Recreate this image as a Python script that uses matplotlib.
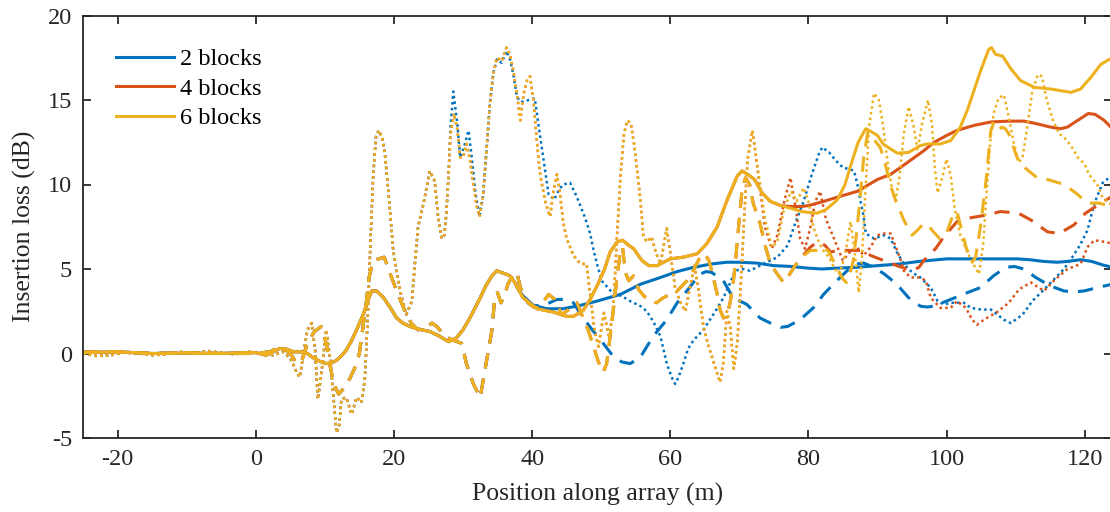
import numpy as np
import matplotlib
matplotlib.use("Agg")
import matplotlib.pyplot as plt

plt.rcParams['font.family'] = ['Liberation Serif', 'DejaVu Serif']
plt.rcParams['axes.unicode_minus'] = False

# colours per block count
c2, c4, c6 = '#0072BD', '#D95319', '#EDB120'
labels = ['2 blocks', '4 blocks', '6 blocks']

# ---- solid curves ----
solid_lead_x = [-25, -20, -15, -10, -5, -2, 0, 1.5, 2.5, 3.5, 4.5, 5.5, 6.5, 7.5, 8.5, 9.5, 10.2, 11, 11.7,
                12.5, 13.1, 13.8, 14.6, 15.6, 16.3, 16.8, 17.5, 18.5, 19.5, 20.4, 21.3, 22.3, 23.5, 25.2,
                26.5, 27.9, 29, 30, 31, 32, 32.5, 33.3, 34.2, 34.9, 35.5, 36.2, 36.8, 37.5, 38]
solid_lead_y = [0.05, 0.1, 0.0, 0.02, 0.0, 0.05, 0.05, -0.1, 0.1, 0.3, 0.25, 0.1, 0.1, 0.0, -0.3, -0.5, -0.6,
                -0.55, -0.4, -0.1, 0.2, 0.7, 1.4, 2.35, 3.2, 3.7, 3.7, 3.3, 2.7, 2.1, 1.8, 1.6, 1.45, 1.3,
                1.05, 0.7, 0.9, 1.4, 2.1, 2.9, 3.3, 4.0, 4.6, 4.9, 4.8, 4.7, 4.6, 4.2, 3.8]

solid2_x = [38.7, 40.2, 42.1, 44.5, 47, 49.4, 52.8, 55.7, 58.6, 61, 63.4, 66, 68.2, 70, 72.5, 75, 77.5, 80,
            82, 84, 87, 90, 93.3, 96, 100, 104, 108, 110.2, 112, 114, 116, 117.5, 119.4, 121, 122.5, 124]
solid2_y = [3.4, 2.85, 2.65, 2.65, 2.85, 3.1, 3.5, 4.1, 4.5, 4.85, 5.1, 5.3, 5.4, 5.4, 5.35, 5.2, 5.15, 5.05,
            5.0, 5.05, 5.1, 5.2, 5.3, 5.45, 5.6, 5.6, 5.6, 5.6, 5.55, 5.45, 5.4, 5.45, 5.55, 5.45, 5.25, 5.1]

solid_warm_x = [38.7, 40.7, 43.1, 45, 46, 47.4, 48.4, 49.4, 50.5, 51.3, 52.3, 53.1, 54, 54.7, 55.9, 56.9,
                58.1, 60, 61.9, 63.9, 65.3, 66.8, 68.2, 69.7, 70.4, 71.2, 72.2, 73.3, 74.5, 76]
solid_warm_y = [3.3, 2.65, 2.45, 2.2, 2.2, 2.55, 3.2, 4.0, 5.0, 6.0, 6.6, 6.7, 6.4, 6.2, 5.5, 5.2, 5.2, 5.6,
                5.7, 5.9, 6.5, 7.5, 9.05, 10.5, 10.8, 10.6, 10.3, 9.5, 9.0, 8.75]

solid4_x = [77.4, 79, 80, 82.2, 84.6, 87.1, 90, 91.9, 93.3, 96.7, 98.2, 100, 101.5, 104, 106.4, 109, 111.2,
            113, 115, 116.5, 117.5, 119, 120.5, 121.5, 122.8, 124]
solid4_y = [8.7, 8.7, 8.75, 9.0, 9.3, 9.6, 10.3, 10.6, 11.0, 12.0, 12.5, 12.9, 13.2, 13.5, 13.7, 13.75, 13.75,
            13.6, 13.4, 13.3, 13.4, 13.8, 14.2, 14.15, 13.8, 13.3]

solid6_x = [77.4, 79, 81.2, 82.5, 84.2, 85.3, 86.1, 87.2, 88.3, 89.2, 90, 90.8, 91.9, 92.9, 94.5, 96.2, 97.2,
            99.1, 100.6, 102, 103, 103.5, 104.9, 106.1, 106.5, 107.1, 108.1, 109.3, 110.7, 112.7, 115.1,
            118, 119.4, 120.9, 122.3, 123.5, 124]
solid6_y = [8.6, 8.4, 8.3, 8.5, 9.1, 10.0, 11.1, 12.5, 13.3, 13.1, 12.9, 12.4, 12.1, 11.85, 11.9, 12.3, 12.4,
            12.4, 12.6, 13.4, 14.4, 15.0, 16.7, 18.0, 18.1, 17.7, 17.6, 16.85, 16.15, 15.75, 15.65, 15.45,
            15.65, 16.35, 17.1, 17.4, 17.45]

# ---- dashed curves ----
dash_lead_x = [-25, -20, -15, -10, -5, 0, 2, 3, 4.4, 5.2, 5.9, 6.7, 7.5, 8.5, 9.5, 10.2, 10.7, 11.3, 12.0,
               12.9, 13.6, 14.3, 15.0, 15.6, 16.0, 16.4, 17.0, 17.8, 18.6, 19.4, 20.4, 21.5, 22.5, 23.5,
               24.5, 25.5, 26.2, 27.5, 28.5, 29.8, 30.5, 31.5, 32.5, 33.0, 33.6, 34.2, 34.6, 35.0, 35.5,
               36.0, 36.5, 37.3, 37.8, 38.3, 39.4]
dash_lead_y = [0.1, 0.1, 0.0, 0.05, 0.0, 0.0, 0.1, 0.3, 0.2, -0.1, -0.6, -0.4, 0.6, 1.3, 1.6, 0.6, -0.6,
               -1.8, -2.4, -2.0, -1.5, -0.9, 0.0, 1.8, 3.0, 4.5, 5.5, 5.6, 5.7, 4.8, 3.7, 2.6, 1.8, 1.4,
               1.5, 1.8, 1.6, 1.0, 0.8, 0.6, -0.6, -1.8, -2.6, -1.4, 0.0, 1.4, 3.3, 3.6, 3.0, 3.4, 4.1,
               4.7, 4.8, 3.9, 3.0]

dash2_x = [40.2, 42, 43.6, 45, 46, 47.4, 48.9, 50.3, 51.8, 53, 54.2, 55.7, 57.5, 59.5, 61, 62.4, 64.3, 65.2,
           66, 67.7, 69.1, 71.1, 73, 74.5, 76, 77, 78.8, 80.7, 82.2, 83.6, 85.6, 87, 88, 89.5, 91, 92.8,
           94.5, 96.2, 97.2, 98.1, 100.6, 103, 104.9, 106.8, 108.6, 109.8, 111.2, 112.9, 115, 117, 118.5,
           119.9, 121.8, 124]
dash2_y = [2.8, 2.9, 3.2, 3.2, 3.0, 2.1, 1.3, 0.6, -0.2, -0.5, -0.6, -0.2, 1.0, 2.0, 3.0, 3.7, 4.7, 4.85,
           4.8, 4.3, 3.3, 2.9, 2.1, 1.8, 1.55, 1.6, 2.0, 2.7, 3.5, 4.1, 4.9, 5.3, 5.35, 5.1, 4.7, 4.1,
           3.3, 2.8, 2.75, 2.8, 3.2, 3.6, 3.9, 4.6, 5.1, 5.15, 5.0, 4.5, 4.0, 3.7, 3.65, 3.7, 3.9, 4.1]

dash_warm_x = [40.2, 40.9, 41.7, 42.4, 43.3, 44.3, 45.3, 46.5, 47.4, 48.2, 48.9, 49.6, 50.3, 50.8, 51.3,
               51.8, 52.3, 52.8, 53.1, 53.5, 54, 54.7, 55.4, 56.2, 57.1, 58, 59, 61, 62.4, 63.1, 64.3, 65,
               65.6, 66, 66.8, 67.2, 67.7, 68.2, 68.7, 69.1, 69.5, 70, 70.4, 70.9, 71.5, 72, 73, 73.8,
               74.5, 75.5, 76.4, 77, 77.9, 79]
dash_warm_y = [2.75, 2.7, 3.1, 3.5, 3.2, 2.3, 2.6, 3.0, 2.1, 1.3, 0.4, -0.5, -1.1, -0.6, 1.0, 2.7, 4.5,
               6.1, 6.3, 4.8, 4.3, 4.6, 3.8, 3.4, 3.1, 3.0, 3.3, 3.7, 4.3, 4.7, 5.7, 5.9, 5.5, 4.9, 3.5,
               2.6, 2.1, 2.2, 3.1, 4.1, 5.7, 8.0, 9.7, 10.4, 10.0, 8.9, 7.7, 6.3, 5.3, 4.7, 4.2, 4.5, 5.1,
               5.7]

dash4_x = [80.3, 81.3, 82.4, 83.2, 84.2, 85.6, 86.5, 88, 89, 90.9, 92.8, 95, 96, 96.7, 98.4, 99.6, 101.5,
           103, 105.9, 107.8, 110.4, 112.2, 114.6, 116.3, 118.4, 120.1, 122.3, 124]
dash4_y = [6.3, 6.6, 6.4, 6.0, 6.1, 6.1, 6.1, 6.1, 5.8, 5.5, 5.2, 4.9, 5.1, 5.5, 6.2, 6.9, 7.8, 8.0, 8.2,
           8.4, 8.3, 7.9, 7.2, 7.1, 7.6, 8.3, 8.9, 9.3]

dash6_x = [80.3, 81.3, 82.2, 83, 83.6, 84.2, 85, 85.5, 86, 86.5, 87, 87.5, 88, 88.6, 89, 90.4, 91, 92,
           92.6, 93.8, 95, 95.8, 96.7, 97.5, 98.1, 99, 99.9, 101, 101.5, 102.2, 102.8, 103.7, 104.2,
           104.6, 105, 105.7, 106.4, 106.8, 107.4, 108, 108.5, 109, 110.2, 111, 113.1, 114.6, 117,
           118.7, 120.4, 122, 124]
dash6_y = [6.1, 6.1, 6.3, 6.0, 5.5, 5.0, 4.4, 4.2, 4.7, 5.5, 7.2, 9.3, 11.6, 13.1, 12.9, 12.2, 11.4, 9.8,
           9.1, 7.9, 7.0, 7.3, 7.7, 7.5, 7.2, 6.8, 7.0, 8.3, 8.4, 7.3, 6.3, 5.4, 5.7, 6.7, 7.8, 10.2,
           13.2, 13.6, 13.2, 13.4, 13.3, 13.0, 11.6, 11.1, 10.4, 10.3, 10.0, 9.5, 8.9, 8.9, 8.7]

# ---- dotted curves ----
dot_lead_x = [-25, -23, -21, -19, -17, -15, -13, -11, -9, -7, -5, -3, -1, 1, 2.5, 4, 5, 5.5, 6.0, 6.4,
              6.9, 7.5, 8.1, 8.6, 9.0, 9.5, 10.2, 10.8, 11.3, 11.7, 12.1, 12.4, 13.1, 13.9, 14.6, 15.3,
              15.8, 16.2, 16.6, 17.0, 17.4, 17.8, 18.3, 18.7, 19.2, 19.9, 20.9, 21.8, 22.6, 23.0, 23.5,
              24.3, 25.2, 25.9, 26.4, 26.9, 27.3, 27.6]
dot_lead_y = [0.0, -0.15, -0.1, 0.05, 0.0, -0.1, -0.05, 0.1, 0.0, 0.15, 0.05, -0.05, 0.1, 0.0, -0.1, 0.1,
              -0.3, -0.7, -1.2, -1.4, 0.0, 1.4, 1.8, 0.2, -2.7, -1.2, 1.4, -0.4, -2.8, -4.7, -4.2, -2.7,
              -2.6, -3.6, -2.6, -2.9, -1.5, 2.0, 6.5, 10.5, 12.8, 13.2, 12.8, 11.8, 9.6, 6.1, 3.7, 2.3,
              3.1, 5.1, 7.5, 8.9, 10.8, 10.2, 8.1, 6.8, 7.0, 8.3]

dot2_x = [27.9, 28.2, 28.6, 29.2, 29.6, 30.2, 30.8, 31.3, 31.8, 32.4, 32.9, 33.4, 33.9, 34.4, 34.9, 35.6,
          36.3, 36.8, 37.3, 37.8, 38.3, 38.8, 39.5, 40.4, 40.9, 41.4, 41.9, 42.4, 43.2, 43.9, 44.5, 45.5,
          46.5, 47.7, 48.4, 48.9, 49.4, 50.1, 51.6, 53, 54.2, 55.7, 56.6, 57.6, 58.6, 59, 59.5, 60.2,
          60.7, 61.2, 61.9, 62.6, 63.4, 64.8, 66.3, 67.7, 68.7, 69.4, 70.5, 71.5, 73.5, 75.5, 77, 78,
          79.3, 80.5, 81.5, 82, 83, 84, 85, 86, 86.6, 87.1, 87.5, 88, 88.3, 89.5, 90.9, 91.9, 92.8, 93.8,
          95, 96.2, 97.7, 98.7, 99.6, 100.6, 102.5, 103.5, 105, 106.4, 108.3, 109.3, 111, 112.4, 113.9,
          115.8, 117, 118.2, 119.3, 120.4, 121.4, 122.6, 123.5, 124]
dot2_y = [10.5, 13.4, 15.5, 13.5, 11.6, 12.3, 13.2, 11.5, 9.5, 8.1, 9.3, 12.0, 14.8, 16.6, 17.4, 17.2, 17.9,
          17.4, 16.5, 15.2, 14.9, 14.9, 15.0, 15.1, 13.6, 12.2, 10.8, 9.4, 9.1, 9.7, 10.0, 10.1, 9.25,
          8.0, 7.1, 6.1, 5.3, 4.3, 3.6, 3.4, 3.1, 2.8, 2.5, 1.85, 1.0, 0.3, -0.6, -1.4, -1.8, -1.4, -0.6,
          0.3, 0.8, 1.4, 2.35, 3.3, 4.2, 4.9, 5.0, 4.9, 5.3, 5.7, 6.4, 7.6, 9.0, 10.6, 11.8, 12.2, 11.9,
          11.4, 11.0, 10.9, 10.8, 10.0, 9.1, 8.1, 7.1, 6.8, 7.0, 6.8, 6.0, 5.3, 4.8, 4.5, 3.9, 3.1, 2.9,
          3.0, 3.0, 2.7, 2.6, 2.6, 2.0, 1.8, 2.3, 3.1, 3.7, 4.5, 5.0, 5.7, 6.4, 7.3, 8.9, 10.1, 10.4,
          10.5]

dot_warm_x = [27.9, 28.2, 28.7, 29.2, 29.6, 30, 30.5, 31, 31.5, 32, 32.4, 32.9, 33.4, 33.9, 34.4, 34.9,
              35.6, 36.3, 36.8, 37.3, 37.8, 38.3, 38.8, 39.3, 39.7, 40.2, 40.7, 41.2, 41.9, 42.6, 43.1,
              43.6, 44, 44.5, 45, 46, 47, 47.9, 48.4, 49, 49.6, 50.4, 51.2, 51.8, 52.3, 52.8, 53.3, 53.8,
              54.3, 54.8, 55.3, 55.7, 56.1, 56.6, 57.3, 57.9, 58.6, 59.1, 59.5, 60, 60.7, 61.5, 62.2,
              62.8, 63.5, 64, 64.8, 65.5, 66.5, 67.2, 67.7, 68.2, 68.7, 69.2, 69.7, 70.2, 70.7, 71.2,
              71.9]
dot_warm_y = [10.5, 13.0, 14.2, 13.2, 11.6, 11.6, 12.4, 11.5, 10.0, 8.7, 8.1, 9.3, 12.0, 14.8, 16.6, 17.5,
              17.3, 18.1, 17.7, 16.7, 15.4, 13.8, 15.4, 16.2, 16.4, 15.0, 12.5, 10.5, 9.0, 8.1, 9.6, 10.6,
              9.6, 7.8, 6.8, 5.8, 5.3, 5.3, 3.5, 1.5, 0.4, 2.4, 0.9, 3.0, 7.0, 10.5, 13.0, 13.8, 13.6,
              12.3, 10.5, 9.0, 7.0, 6.6, 6.9, 6.0, 5.3, 6.5, 7.4, 6.0, 3.9, 3.0, 2.5, 3.8, 5.2, 4.0, 1.6,
              0.5, -0.8, -1.7, -0.5, 2.5, 1.5, -0.9, 0.6, 4.0, 8.0, 11.5, 13.2]

dot4_x = [72.8, 73.7, 74.7, 75.5, 76.5, 77.4, 78.2, 78.8, 79.5, 80.3, 81, 81.7, 82.5, 83.3, 84, 85, 86, 87,
          88, 89, 90, 91, 91.9, 93.3, 93.8, 94.8, 96.2, 97, 97.7, 99.1, 100.6, 101.5, 102.8, 103.7, 104.4,
          105.4, 107.3, 109, 110.5, 112.2, 114.1, 115.5, 117.5, 119.4, 120.4, 121.4, 123, 124]
dot4_y = [10.4, 7.5, 6.2, 7.0, 9.0, 10.4, 8.5, 6.8, 6.2, 7.5, 9.0, 9.6, 8.0, 7.2, 6.5, 5.5, 6.0, 6.3, 5.8,
          6.3, 7.0, 7.1, 7.1, 5.6, 4.9, 4.5, 4.5, 4.3, 3.3, 2.7, 2.7, 3.1, 2.7, 2.0, 1.7, 2.0, 2.45, 3.0,
          3.8, 4.2, 3.7, 4.3, 5.0, 5.3, 6.3, 6.7, 6.6, 6.5]

dot6_x = [72.8, 73.7, 74.7, 75.5, 76.5, 77.5, 78.3, 79.3, 80, 80.7, 81.5, 82.3, 83, 83.8, 84.5, 85.3, 86.1,
          86.7, 87.3, 87.8, 88.3, 88.8, 89.5, 90.2, 90.8, 91.5, 92.2, 92.6, 93.2, 93.8, 94.5, 95.2, 95.8,
          96.4, 97.3, 97.9, 98.3, 98.7, 99.3, 100, 100.6, 101.2, 102, 103, 104, 104.7, 105.3, 105.8,
          106.3, 106.8, 107.5, 108.3, 109, 109.7, 110.4, 111, 111.7, 112.4, 113.2, 113.8, 114.5, 115.4,
          116.3, 117, 118, 119, 120, 120.6, 121.8, 122.5, 123.5, 124]
dot6_y = [10.6, 8.0, 6.3, 6.6, 8.6, 9.6, 9.0, 9.8, 9.0, 7.5, 6.6, 6.0, 5.7, 5.0, 4.7, 5.8, 7.8, 6.0, 3.6,
          6.0, 10.0, 13.5, 15.4, 15.0, 13.5, 11.2, 9.5, 9.0, 10.5, 13.0, 14.6, 13.5, 12.0, 13.5, 15.0,
          13.5, 11.0, 9.5, 10.3, 11.5, 10.5, 8.5, 7.0, 6.0, 5.2, 4.7, 6.5, 9.5, 12.5, 14.2, 15.1, 15.3,
          14.0, 12.5, 11.3, 11.6, 13.5, 15.5, 16.5, 16.4, 15.0, 13.8, 13.0, 12.8, 12.3, 11.6, 11.2, 10.6,
          10.0, 9.3, 8.9, 8.8]


def join(*parts):
    xs = np.concatenate([np.asarray(p[0], float) for p in parts])
    ys = np.concatenate([np.asarray(p[1], float) for p in parts])
    return xs, ys


solid = [join((solid_lead_x, solid_lead_y), (solid2_x, solid2_y)),
         join((solid_lead_x, solid_lead_y), (solid_warm_x, solid_warm_y), (solid4_x, solid4_y)),
         join((solid_lead_x, solid_lead_y), (solid_warm_x, solid_warm_y), (solid6_x, solid6_y))]
dashed = [join((dash_lead_x, dash_lead_y), (dash2_x, dash2_y)),
          join((dash_lead_x, dash_lead_y), (dash_warm_x, dash_warm_y), (dash4_x, dash4_y)),
          join((dash_lead_x, dash_lead_y), (dash_warm_x, dash_warm_y), (dash6_x, dash6_y))]
dotted = [join((dot_lead_x, dot_lead_y), (dot2_x, dot2_y)),
          join((dot_lead_x, dot_lead_y), (dot_warm_x, dot_warm_y), (dot4_x, dot4_y)),
          join((dot_lead_x, dot_lead_y), (dot_warm_x, dot_warm_y), (dot6_x, dot6_y))]

fig = plt.figure(figsize=(11.1, 5.12), dpi=100)
ax = fig.add_axes([83 / 1110, 74 / 512, 1029.4 / 1110, 422.5 / 512])

lw = 2.2
for i, col in enumerate([c2, c4, c6]):
    ax.plot(*solid[i], color=col, lw=lw, label=labels[i], solid_joinstyle='round')
    ax.plot(*dashed[i], color=col, lw=lw, dashes=(5, 3.3))
    ax.plot(*dotted[i], color=col, lw=1.8, dashes=(1, 1.3))

ax.set_xlim(-25, 124)
ax.set_ylim(-5, 20)
ax.set_xticks(np.arange(-20, 121, 20))
ax.set_yticks(np.arange(-5, 21, 5))

dark = '#262626'
for s in ax.spines.values():
    s.set_color(dark)
    s.set_linewidth(1.3)
ax.tick_params(direction='in', length=6, width=1.3, colors=dark, labelsize=17.5,
               top=True, right=True, pad=8)
ax.set_xlabel('Position along array (m)', fontsize=18.5, color=dark, labelpad=9)
ax.set_ylabel('Insertion loss (dB)', fontsize=18.5, color=dark, labelpad=8)

ax.legend(loc='upper left', bbox_to_anchor=(0.0227, 0.945), frameon=False, fontsize=17.5,
          handlelength=2.4, handletextpad=0.25, labelspacing=0.3, borderaxespad=0)

fig.savefig('out.png', dpi=100)
